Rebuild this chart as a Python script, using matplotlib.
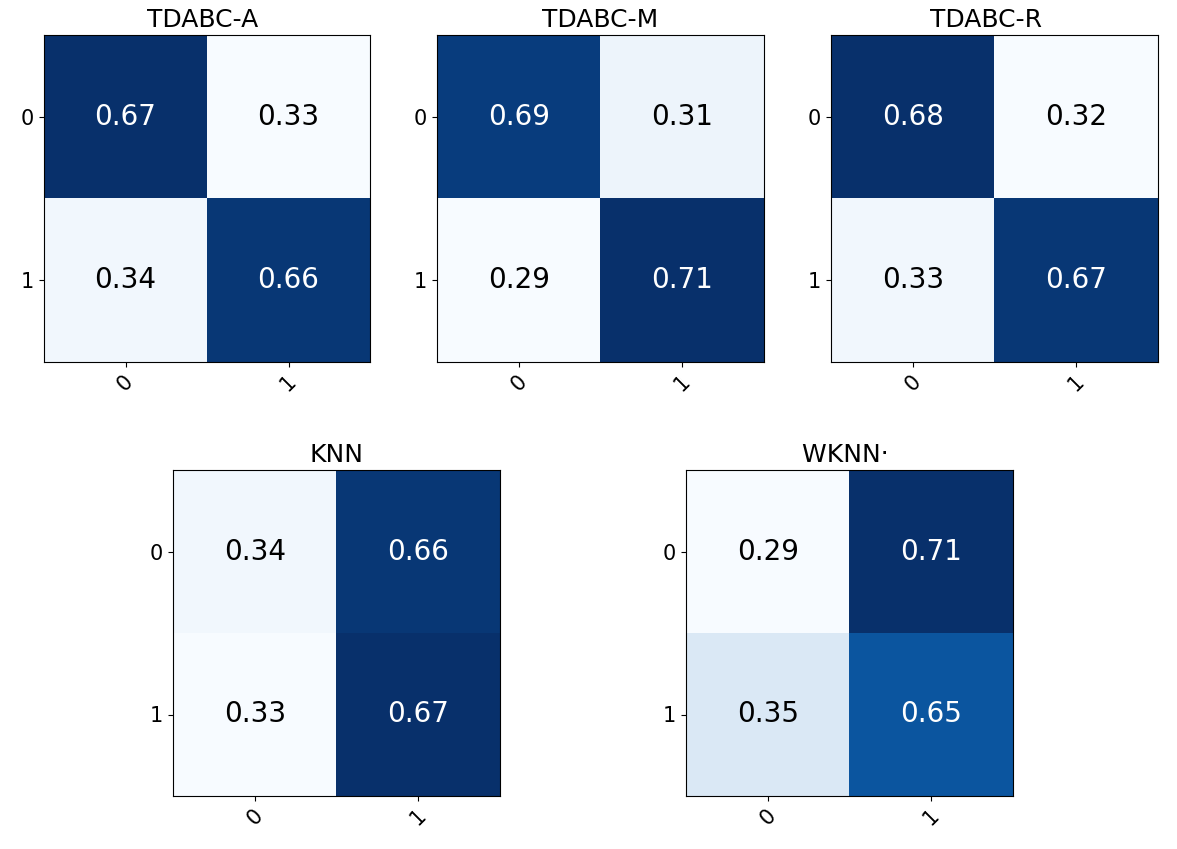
import matplotlib
matplotlib.use("Agg")
import matplotlib.pyplot as plt
import numpy as np

titles = ["TDABC-A ", "TDABC-M", "TDABC-R  ", "KNN", "WKNN\u2027 "]
matrices = [
    [[0.67, 0.33], [0.34, 0.66]],
    [[0.69, 0.31], [0.29, 0.71]],
    [[0.68, 0.32], [0.33, 0.67]],
    [[0.34, 0.66], [0.33, 0.67]],
    [[0.29, 0.71], [0.35, 0.65]],
]
class_labels = ["0", "1"]

fig = plt.figure(figsize=(11.77, 8.49), dpi=100)
W, H = 1177, 849
boxes = [
    (44, 35, 370, 362),
    (437, 35, 764, 362),
    (831, 35, 1158, 362),
    (173, 470, 500, 796),
    (686, 470, 1013, 796),
]
for title, mat, (x0, y0, x1, y1) in zip(titles, matrices, boxes):
    ax = fig.add_axes([x0 / W, 1 - y1 / H, (x1 - x0) / W, (y1 - y0) / H])
    m = np.array(mat)
    ax.imshow(m, cmap="Blues", interpolation="nearest", aspect="auto")
    thresh = (m.max() + m.min()) / 2
    for i in range(m.shape[0]):
        for j in range(m.shape[1]):
            ax.text(j, i, f"{m[i, j]:.2f}", ha="center", va="center",
                    fontsize=20, color="white" if m[i, j] > thresh else "black")
    ax.set_title(title, fontsize=18)
    ax.set_xticks(range(len(class_labels)))
    ax.set_yticks(range(len(class_labels)))
    ax.set_xticklabels(class_labels, rotation=45, fontsize=15)
    ax.set_yticklabels(class_labels, fontsize=15)

fig.savefig("out.png", dpi=100)
